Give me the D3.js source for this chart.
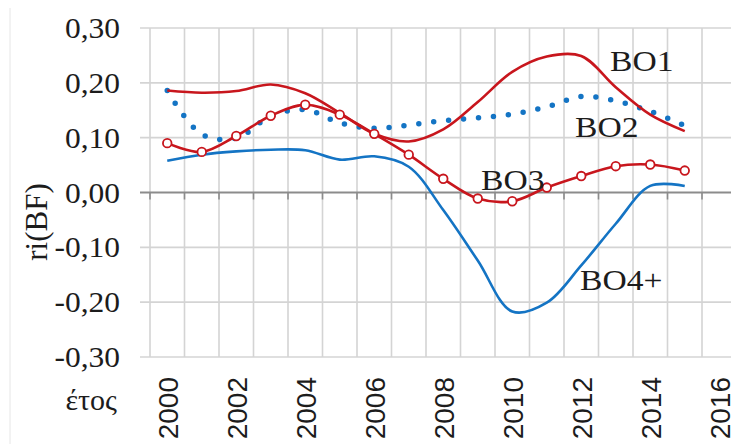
<!DOCTYPE html>
<html>
<head>
<meta charset="utf-8">
<script src="https://cdn.jsdelivr.net/npm/d3@7"></script>
<style>
  html, body { margin: 0; padding: 0; background: #fff; }
  svg { display: block; }
  .serif { font-family: "Liberation Serif", "DejaVu Serif", "Times New Roman", Times, serif; }
  .sans { font-family: "Liberation Sans", Arial, Helvetica, sans-serif; }
</style>
</head>
<body>
<svg id="chart" width="731" height="444"></svg>
<script>
// ---- data ----
const years = [2000, 2001, 2002, 2003, 2004, 2005, 2006, 2007, 2008, 2009, 2010, 2011, 2012, 2013, 2014, 2015];
const bo1 = [0.186, 0.182, 0.185, 0.197, 0.181, 0.145, 0.107, 0.093, 0.115, 0.165, 0.220, 0.248, 0.249, 0.192, 0.142, 0.112];
const bo2 = [0.186, 0.106, 0.099, 0.139, 0.151, 0.127, 0.117, 0.123, 0.131, 0.136, 0.143, 0.156, 0.175, 0.167, 0.148, 0.122];
const bo3 = [0.090, 0.074, 0.103, 0.140, 0.160, 0.142, 0.107, 0.069, 0.025, -0.011, -0.016, 0.009, 0.030, 0.048, 0.051, 0.040];
const bo4 = [0.058, 0.069, 0.075, 0.078, 0.077, 0.060, 0.066, 0.047, -0.032, -0.124, -0.217, -0.201, -0.133, -0.057, 0.012, 0.012];
const yTicks = [0.30, 0.20, 0.10, 0.00, -0.10, -0.20, -0.30];
const xLabelYears = [2000, 2002, 2004, 2006, 2008, 2010, 2012, 2014, 2016];
const seriesNames = ["BO1", "BO2", "BO3", "BO4+"];
const yTitle = "ri(BF)";
const xTitle = "έτος";

// ---- layout ----
const svg = d3.select("#chart");
const plotLeft = 140, firstBoundary = 150, catW = 34.5, plotTop = 28, plotBottom = 357;
const x = d3.scaleLinear().domain([1999.5, 2016.5]).range([firstBoundary, firstBoundary + 17 * catW]);
const y = d3.scaleLinear().domain([-0.3, 0.3]).range([plotBottom, plotTop]);

const red = "#C8161D", blue = "#1474C4", ink = "#1c1c1c";

// faint outer border line
svg.append("line").attr("x1", 10).attr("x2", 10).attr("y1", 8).attr("y2", 444)
  .attr("stroke", "#e6e6e6").attr("stroke-width", 1);

// horizontal gridlines
svg.append("g").selectAll("line").data(yTicks.filter(d => d !== 0)).join("line")
  .attr("x1", plotLeft).attr("x2", 740)
  .attr("y1", d => y(d)).attr("y2", d => y(d))
  .attr("stroke", "#d4d4d4").attr("stroke-width", 1.6);

// vertical gridlines at category boundaries
const boundaries = d3.range(1999.5, 2017, 1);
svg.append("g").selectAll("line").data(boundaries).join("line")
  .attr("x1", d => x(d)).attr("x2", d => x(d))
  .attr("y1", y(0.3)).attr("y2", y(-0.3))
  .attr("stroke", "#d4d4d4").attr("stroke-width", 1.6);

// zero axis line with ticks
svg.append("line").attr("x1", plotLeft).attr("x2", 740)
  .attr("y1", y(0)).attr("y2", y(0))
  .attr("stroke", "#8c8c8c").attr("stroke-width", 2);
svg.append("g").selectAll("line").data(boundaries).join("line")
  .attr("x1", d => x(d)).attr("x2", d => x(d))
  .attr("y1", y(0)).attr("y2", y(0) + 7)
  .attr("stroke", "#8c8c8c").attr("stroke-width", 1.6);

// y tick labels
svg.append("g").selectAll("text").data(yTicks).join("text")
  .attr("class", "serif")
  .attr("transform", d => `translate(120,${y(d) + 10}) scale(1.05,1)`)
  .attr("text-anchor", "end")
  .attr("font-size", 30).attr("fill", ink)
  .text(d => d3.format(".2f")(d).replace(".", ",").replace("−", "-"));

// x labels (rotated)
svg.append("g").selectAll("text").data(xLabelYears).join("text")
  .attr("class", "sans")
  .attr("transform", d => `translate(${x(d) + 1},377) rotate(-90)`)
  .attr("text-anchor", "end").attr("dy", "0.36em")
  .attr("font-size", 28).attr("fill", ink)
  .text(d => d);

// axis titles
svg.append("text").attr("class", "serif").attr("transform", "translate(47,222) rotate(-90)")
  .attr("text-anchor", "middle")
  .attr("font-size", 31).attr("fill", ink)
  .text(yTitle);
svg.append("text").attr("class", "serif").attr("x", 117).attr("y", 410).attr("text-anchor", "end")
  .attr("font-size", 30).attr("fill", ink)
  .text(xTitle);

// lines
const line = d3.line().x((d, i) => x(years[i])).y(d => y(d)).curve(d3.curveCatmullRom.alpha(0.5));

svg.append("path").datum(bo4).attr("d", line)
  .attr("fill", "none").attr("stroke", blue).attr("stroke-width", 2.6);
svg.append("path").datum(bo2).attr("d", line)
  .attr("fill", "none").attr("stroke", blue).attr("stroke-width", 5.5)
  .attr("stroke-linecap", "round").attr("stroke-dasharray", "0,15");
svg.append("path").datum(bo1).attr("d", line)
  .attr("fill", "none").attr("stroke", red).attr("stroke-width", 2.6);
svg.append("path").datum(bo3).attr("d", line)
  .attr("fill", "none").attr("stroke", red).attr("stroke-width", 2.6);
svg.append("g").selectAll("circle").data(bo3).join("circle")
  .attr("cx", (d, i) => x(years[i])).attr("cy", d => y(d)).attr("r", 4.3)
  .attr("fill", "#fff").attr("stroke", red).attr("stroke-width", 1.8);

// series labels
const labelPos = [[610, 71], [575, 137], [481, 190], [580, 290]];
svg.append("g").selectAll("text").data(seriesNames).join("text")
  .attr("class", "serif")
  .attr("transform", (d, i) => `translate(${labelPos[i][0]},${labelPos[i][1]}) scale(1.12,1)`)
  .attr("font-size", 30).attr("fill", ink)
  .text(d => d);
</script>
</body>
</html>
